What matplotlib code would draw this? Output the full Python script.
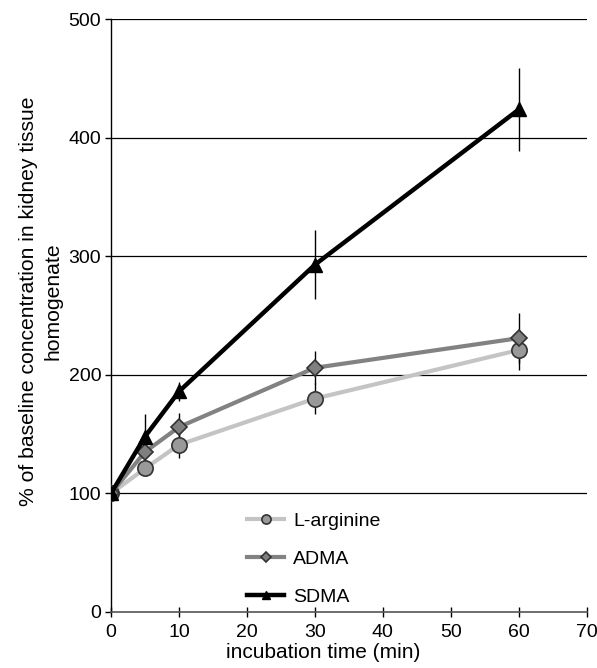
import numpy as np
import matplotlib
matplotlib.use("Agg")
import matplotlib.pyplot as plt

plt.rcParams['font.family'] = ['Liberation Sans', 'DejaVu Sans']

# incubation time (min)
time = [0, 5, 10, 30, 60]

# % of baseline
larg = [100, 121, 141, 180, 221]
larg_err = [0, 0, 11, 13, 17]
adma = [100, 135, 156, 206, 231]
adma_err = [0, 0, 12, 14, 21]
sdma = [100, 148, 186, 293, 424]
sdma_err = [0, 19, 8, 29, 35]

fig = plt.figure(figsize=(5.97, 6.68), dpi=100)
ax = fig.add_axes([0.186, 0.084, 0.797, 0.887])

for y in [100, 200, 300, 400, 500]:
    ax.axhline(y, color='black', linewidth=0.9, zorder=1)

ax.errorbar(time, larg, yerr=larg_err, fmt='none', ecolor='black', elinewidth=1, zorder=2)
ax.errorbar(time, adma, yerr=adma_err, fmt='none', ecolor='black', elinewidth=1, zorder=2)
ax.errorbar(time, sdma, yerr=sdma_err, fmt='none', ecolor='black', elinewidth=1, zorder=2)

ax.plot(time, larg, color='#c4c4c4', linewidth=3, marker='o', markersize=11,
        markerfacecolor='#999999', markeredgecolor='#333333', markeredgewidth=1.2,
        label='L-arginine', zorder=3)
ax.plot(time, adma, color='#828282', linewidth=3, marker='D', markersize=8.5,
        markerfacecolor='#7f7f7f', markeredgecolor='#333333', markeredgewidth=1.2,
        label='ADMA', zorder=4)
ax.plot(time, sdma, color='black', linewidth=3.2, marker='^', markersize=10,
        markerfacecolor='black', markeredgecolor='black',
        label='SDMA', zorder=5)

ax.set_xlim(0, 70)
ax.set_ylim(0, 500)
ax.set_xticks(range(0, 71, 10))
ax.set_yticks(range(0, 501, 100))
ax.tick_params(axis='x', direction='inout', length=7, width=1, labelsize=14, pad=5)
ax.tick_params(axis='y', direction='out', length=4, width=1, labelsize=14, pad=3)

ax.spines['top'].set_visible(False)
ax.spines['right'].set_visible(False)
ax.spines['left'].set_linewidth(1)
ax.spines['bottom'].set_linewidth(1.2)
ax.spines['bottom'].set_color('#555555')
ax.patch.set_visible(False)

ax.set_xlabel('incubation time (min)', fontsize=15)
ax.xaxis.set_label_coords(0.446, -0.053)
ax.set_ylabel('% of baseline concentration in kidney tissue\nhomogenate',
              fontsize=15.2, linespacing=1.4)
ax.yaxis.set_label_coords(-0.101, 0.525)

ax.legend(loc='lower left', bbox_to_anchor=(0.25, -0.019), frameon=False,
          fontsize=14, markerscale=0.6, handlelength=1.9, labelspacing=1.05,
          handletextpad=0.45)

fig.savefig('out.png', dpi=100)
